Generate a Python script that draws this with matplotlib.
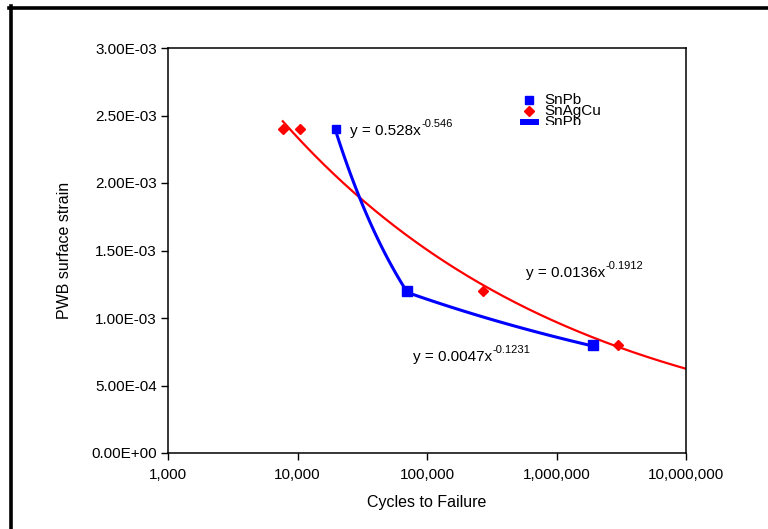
import matplotlib
matplotlib.use("Agg")
import matplotlib.pyplot as plt
import numpy as np
from matplotlib.lines import Line2D
from matplotlib.patches import Rectangle
from matplotlib.ticker import FuncFormatter, FixedLocator

plt.rcParams['font.family'] = ['Liberation Sans', 'DejaVu Sans']

# data
snpb_cycles = [20000, 70000, 1900000]
snpb_strain = [2.4e-3, 1.2e-3, 0.8e-3]
sac_cycles = [7700, 10500, 270000, 3000000]
sac_strain = [2.4e-3, 2.4e-3, 1.2e-3, 0.8e-3]

# power-law trendlines y = a * x^b, as labelled on the chart
snpb_fit1 = (0.528, -0.546)
snpb_fit2 = (0.0047, -0.1231)
sac_fit = (0.0136, -0.1912)

x_ticks = [1e3, 1e4, 1e5, 1e6, 1e7]
y_ticks = [0, 5e-4, 1e-3, 1.5e-3, 2e-3, 2.5e-3, 3e-3]

blue = '#0000FF'
red = '#FF0000'


def power(fit, x):
    return fit[0] * np.power(x, fit[1])


fig = plt.figure(figsize=(7.68, 5.29), dpi=100)
W, H = 768, 529
ax = fig.add_axes([168 / W, 1 - 453 / H, 518 / W, 405 / H])

# outer frame of the chart
fig.add_artist(Line2D([10.5 / W, 10.5 / W], [0, 1 - 6 / H], color='black', lw=2.6))
fig.add_artist(Line2D([9.2 / W, 1], [1 - 7.5 / H, 1 - 7.5 / H], color='black', lw=2.6))

# trendlines
xs = np.geomspace(sac_cycles[0], 1e7, 200)
ax.plot(xs, power(sac_fit, xs), color=red, lw=1.6, zorder=2)
xs1 = np.geomspace(snpb_cycles[0], snpb_cycles[1], 100)
ax.plot(xs1, power(snpb_fit1, xs1), color=blue, lw=2.2, zorder=3)
xs2 = np.geomspace(snpb_cycles[1], snpb_cycles[2], 100)
ax.plot(xs2, power(snpb_fit2, xs2), color=blue, lw=2.2, zorder=3)

# markers
ax.plot(snpb_cycles, snpb_strain, 's', color=blue, ms=5.2, zorder=4)
ax.plot(snpb_cycles[1:], snpb_strain[1:], 's', color=blue, ms=7.2, zorder=4)
ax.plot(sac_cycles, sac_strain, 'D', color=red, ms=5, zorder=5)

ax.set_xscale('log')
ax.set_xlim(1e3, 1e7)
ax.set_ylim(0, 3e-3)
ax.xaxis.set_major_locator(FixedLocator(x_ticks))
ax.xaxis.set_minor_locator(FixedLocator([]))
ax.set_yticks(y_ticks)
ax.xaxis.set_major_formatter(FuncFormatter(lambda v, p: f"{v:,.0f}"))
ax.yaxis.set_major_formatter(FuncFormatter(lambda v, p: f"{v:.2E}"))
ax.tick_params(direction='out', length=5, width=1, labelsize=11, pad=3)
ax.tick_params(axis='x', pad=6)
for s in ax.spines.values():
    s.set_linewidth(1.1)

ax.set_xlabel('Cycles to Failure', fontsize=11.5, labelpad=9)
ax.set_ylabel('PWB surface strain', fontsize=11.5, labelpad=14)

# equation labels, exponent as a small raised text
for base, expo, px, py in [('y = 0.528x', '-0.546', 350, 131),
                           ('y = 0.0136x', '-0.1912', 526, 273),
                           ('y = 0.0047x', '-0.1231', 413, 357)]:
    t = ax.text((px - 168) / 518, (453 - py) / 405, base, fontsize=11,
                va='center', transform=ax.transAxes)
    ax.annotate(expo, xy=(1, 0.62), xycoords=t, fontsize=8, va='bottom',
                xytext=(0.5, 0), textcoords='offset points')

# legend, cut off below its second entry as in the source
clip = Rectangle((0.6, (453 - 124.5) / 405), 0.4, 0.2, transform=ax.transAxes,
                 visible=False)
ax.add_patch(clip)
lx, tx = (529 - 168) / 518, (544 - 168) / 518
rows = [(100, 's', blue, 'SnPb'), (111, 'D', red, 'SnAgCu'), (122, None, blue, 'SnPb')]
for py, mk, col, name in rows:
    yy = (453 - py) / 405
    if mk:
        ax.plot([lx], [yy], mk, color=col, ms=5.5 if mk == 's' else 5,
                transform=ax.transAxes, clip_on=False)
    else:
        ln = ax.plot([lx - 0.012, lx + 0.012], [yy, yy], color=col, lw=5,
                     transform=ax.transAxes)[0]
        ln.set_clip_path(clip)
    t = ax.text(tx, yy, name, fontsize=11, va='center', transform=ax.transAxes)
    if mk is None:
        t.set_clip_path(clip)
        t.set_clip_on(True)

fig.savefig('out.png', dpi=100)
